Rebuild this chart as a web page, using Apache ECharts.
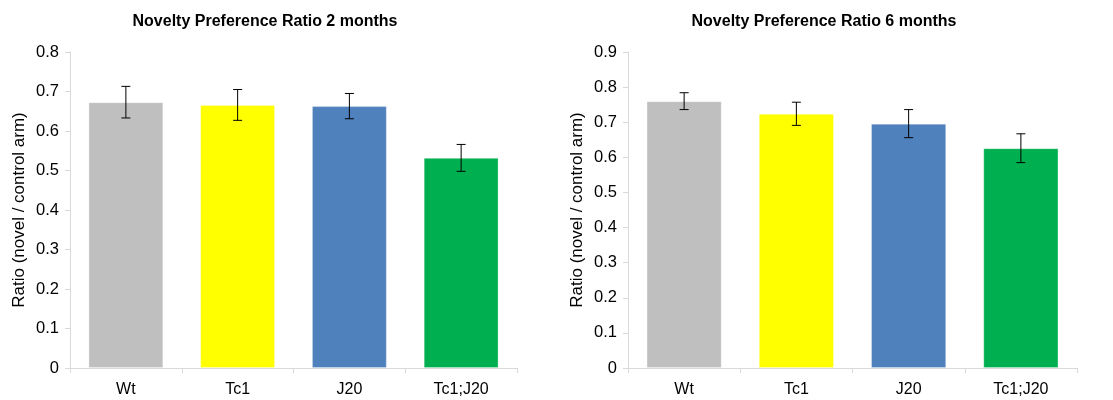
<!DOCTYPE html>
<html>
<head>
<meta charset="utf-8">
<script src="https://cdn.jsdelivr.net/npm/echarts@6/dist/echarts.min.js"></script>
<style>
html,body{margin:0;padding:0;background:#fff;}
#chart{width:1113px;height:400px;}
</style>
</head>
<body>
<div id="chart"></div>
<script>
const categories = ['Wt', 'Tc1', 'J20', 'Tc1;J20'];
const barColors = ['#BFBFBF', '#FFFF00', '#4F81BD', '#00B050'];
const titles = ['Novelty Preference Ratio 2 months', 'Novelty Preference Ratio 6 months'];
const yAxisName = 'Ratio (novel / control arm)';

const values2m = [0.673, 0.666, 0.663, 0.532];
const errors2m = [0.040, 0.039, 0.032, 0.034];
const values6m = [0.760, 0.724, 0.696, 0.626];
const errors6m = [0.024, 0.033, 0.040, 0.041];

const yMax = [0.8, 0.9];

const font = 'Liberation Sans, Arial, sans-serif';
const chart = echarts.init(document.getElementById('chart'), null, {renderer: 'canvas'});

function barSeries(idx, vals) {
  return {
    type: 'bar',
    xAxisIndex: idx, yAxisIndex: idx,
    barCategoryGap: '33%',
    data: vals.map((v, i) => ({value: v, itemStyle: {color: barColors[i]}})),
    itemStyle: {borderColor: 'rgba(255,255,255,0.3)', borderWidth: 1},
    silent: true
  };
}
function errSeries(idx, vals, errs) {
  return {
    type: 'custom',
    xAxisIndex: idx, yAxisIndex: idx,
    data: vals.map((v, i) => [i, v - errs[i], v + errs[i]]),
    renderItem: function (params, api) {
      const lo = api.coord([api.value(0), api.value(1)]);
      const hi = api.coord([api.value(0), api.value(2)]);
      const w = 4.5;
      const st = {stroke: '#000', lineWidth: 1};
      return {
        type: 'group',
        children: [
          {type: 'line', shape: {x1: lo[0], y1: lo[1], x2: hi[0], y2: hi[1]}, style: st},
          {type: 'line', shape: {x1: lo[0] - w, y1: lo[1], x2: lo[0] + w, y2: lo[1]}, style: st},
          {type: 'line', shape: {x1: hi[0] - w, y1: hi[1], x2: hi[0] + w, y2: hi[1]}, style: st}
        ]
      };
    },
    z: 10,
    silent: true
  };
}
function xAxis(idx) {
  return {
    type: 'category', gridIndex: idx, data: categories,
    axisLine: {lineStyle: {color: '#D9D9D9', width: 1}},
    axisTick: {show: true, length: 5, lineStyle: {color: '#D9D9D9'}},
    axisLabel: {color: '#000', fontSize: 16, fontFamily: font, margin: 14}
  };
}
function yAxis(idx) {
  return {
    type: 'value', gridIndex: idx, min: 0, max: yMax[idx], interval: 0.1,
    name: yAxisName, nameLocation: 'middle', nameGap: 42,
    nameTextStyle: {color: '#000', fontSize: 17, fontFamily: font},
    axisLine: {show: true, lineStyle: {color: '#D9D9D9', width: 1}},
    axisTick: {show: true, length: 5, lineStyle: {color: '#D9D9D9'}},
    splitLine: {show: false},
    axisLabel: {color: '#000', fontSize: 16.5, fontFamily: font, margin: 11,
      formatter: v => (Math.round(v * 10) / 10).toString()}
  };
}

chart.setOption({
  animation: false,
  backgroundColor: '#fff',
  title: [
    {text: titles[0], left: 260, top: 9, textAlign: 'center',
     textStyle: {fontSize: 16, fontWeight: 'bold', color: '#000', fontFamily: font}},
    {text: titles[1], left: 819, top: 9, textAlign: 'center',
     textStyle: {fontSize: 16, fontWeight: 'bold', color: '#000', fontFamily: font}}
  ],
  grid: [
    {left: 70, right: 596, top: 52, bottom: 32},
    {left: 628, right: 36, top: 52, bottom: 32}
  ],
  xAxis: [xAxis(0), xAxis(1)],
  yAxis: [yAxis(0), yAxis(1)],
  series: [
    barSeries(0, values2m), errSeries(0, values2m, errors2m),
    barSeries(1, values6m), errSeries(1, values6m, errors6m)
  ]
});
</script>
</body>
</html>
